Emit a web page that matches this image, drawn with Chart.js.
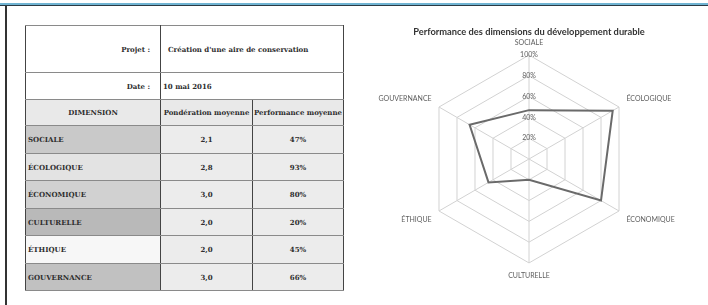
<!DOCTYPE html>
<html><head><meta charset="utf-8">
<script src="https://cdn.jsdelivr.net/npm/chart.js@4/dist/chart.umd.min.js"></script>
<style>
html,body{margin:0;padding:0;background:#fff;width:708px;height:305px;overflow:hidden;}
#topline{position:absolute;left:0;top:3px;width:708px;height:2px;background:#6fb3d2;}
#topline2{position:absolute;left:0;top:5px;width:708px;height:1px;background:#2a3a44;}
#leftline{position:absolute;left:5px;top:6px;width:2px;height:299px;background:#333;}
table{position:absolute;left:25px;top:25px;border-collapse:collapse;font-family:"DejaVu Serif","Liberation Serif",serif;font-size:7px;font-weight:bold;color:#2e2e2e;border:1.5px solid #444;}
td{padding:0 2px;border-left:1.5px solid #444;border-right:1.5px solid #444;border-top:1px solid #8a8a8a;border-bottom:1px solid #8a8a8a;white-space:nowrap;overflow:hidden;}
td.c{text-align:center;}
td.r{text-align:right;padding-right:10px;}
tr.v td.c{background:#ececec;}
tr.h td{background:#e9e9e9;text-align:center;padding:0 1px;}
</style></head><body>
<div id="topline"></div><div id="topline2"></div><div id="leftline"></div>
<table id="tbl">
<colgroup><col style="width:135px"><col style="width:92px"><col style="width:91px"></colgroup>
<tr style="height:47px"><td class="r">Projet :</td><td colspan="2" style="padding-left:7px;font-weight:600">Création d'une aire de conservation</td></tr>
<tr style="height:27px"><td class="r">Date :</td><td colspan="2">10 mai 2016</td></tr>
<tr class="h" style="height:26px"><td>DIMENSION</td><td>Pondération moyenne</td><td>Performance moyenne</td></tr>
</table>
<div style="position:absolute;left:363px;top:20px;width:332px;height:262px;">
<canvas id="c" width="332" height="262"></canvas>
</div>
<script>
const categories = ["SOCIALE","ÉCOLOGIQUE","ÉCONOMIQUE","CULTURELLE","ÉTHIQUE","GOUVERNANCE"];
const ponderation = ["2,1","2,8","3,0","2,0","2,0","3,0"];
const performance = [47, 93, 80, 20, 45, 66];
const tickLabels = ["0%","20%","40%","60%","80%","100%"];
const dimColors = ["#c9c9c9","#e3e3e3","#d1d1d1","#b9b9b9","#f7f7f7","#c1c1c1"];

const tbl = document.getElementById('tbl');
categories.forEach((cat,i)=>{
  const tr = document.createElement('tr');
  tr.className='v';
  tr.style.height = (i%2===0? 28:27)+'px';
  tr.innerHTML = '<td style="background:'+dimColors[i]+'">'+cat+'</td><td class="c">'+ponderation[i]+'</td><td class="c">'+performance[i]+'%</td>';
  tbl.appendChild(tr);
});

new Chart(document.getElementById('c'), {
  type:'radar',
  data:{labels:categories, datasets:[{data:performance, borderColor:'#6a6a6a', borderWidth:2, backgroundColor:'transparent', pointRadius:0, fill:false, tension:0}]},
  options:{
    responsive:false, animation:false,
    layout:{padding:{top:0,bottom:2,left:0,right:0}},
    plugins:{legend:{display:false}, tooltip:{enabled:false},
      title:{display:true, text:'Performance des dimensions du développement durable', color:'#333', font:{family:'Lato', size:9.3, weight:'bold'}, padding:{top:6,bottom:1}}},
    scales:{r:{min:0,max:100,
      ticks:{stepSize:20, showLabelBackdrop:false, color:'#5e5e5e', font:{family:'Lato',size:7}, callback:(v,i)=>tickLabels[i], z:1},
      grid:{color:'#d2d2d2', lineWidth:1},
      angleLines:{color:'#d2d2d2', lineWidth:1},
      pointLabels:{color:'#5e5e5e', font:{family:'Lato',size:7}, padding:3}
    }}
  }
});
</script>
</body></html>
